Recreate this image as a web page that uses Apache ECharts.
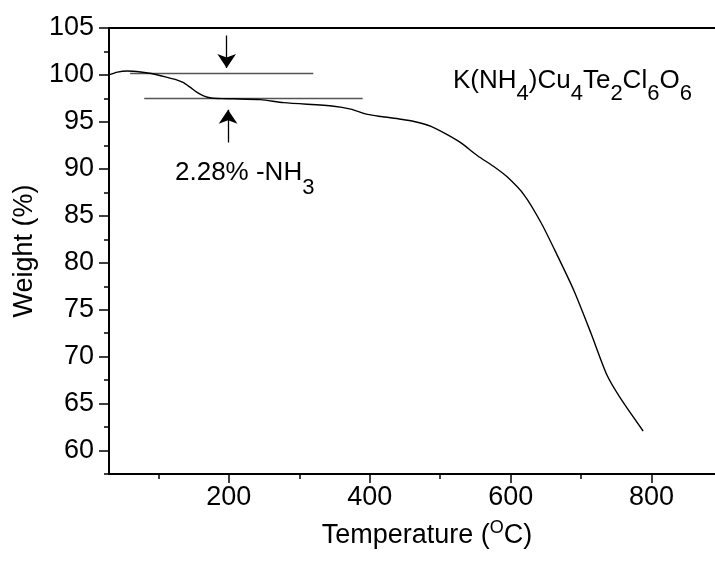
<!DOCTYPE html>
<html>
<head>
<meta charset="utf-8">
<script src="https://cdn.jsdelivr.net/npm/echarts@6/dist/echarts.min.js"></script>
<style>
html, body { margin: 0; padding: 0; background: #fff; }
#main { width: 715px; height: 561px; }
</style>
</head>
<body>
<div id="main"></div>
<script>
var myChart = echarts.init(document.getElementById('main'));

// TGA curve
var temps = [30, 42, 56, 75, 90, 110, 125, 135, 145, 155, 165, 175, 190, 207, 245, 278, 349, 373, 397, 416, 444, 463, 487, 510, 529, 553, 576, 595, 619, 643, 666, 690, 714, 737, 756, 788];
var weights = [100.0, 100.3, 100.42, 100.32, 100.15, 99.8, 99.5, 99.2, 98.7, 98.15, 97.75, 97.55, 97.48, 97.46, 97.37, 97.05, 96.67, 96.36, 95.8, 95.57, 95.29, 95.05, 94.53, 93.65, 92.79, 91.4, 90.25, 89.15, 87.24, 84.29, 80.82, 77.0, 72.5, 67.99, 65.56, 62.09];

// annotation: two level lines and two arrows
var upperLevel = [[60, 100.2], [320, 100.2]];
var lowerLevel = [[80, 97.5], [390, 97.5]];
var downArrow = [[197, 104.2], [197, 100.75]];
var upArrow = [[199, 92.8], [199, 96.3]];

var xMajorTicks = [200, 400, 600, 800];
var xMinorTicks = [100, 300, 500, 700];
var yMajorTicks = [60, 65, 70, 75, 80, 85, 90, 95, 100, 105];
var yMinorTicks = [57.5, 62.5, 67.5, 72.5, 77.5, 82.5, 87.5, 92.5, 97.5, 102.5];

var curve = temps.map(function (t, i) { return [t, weights[i]]; });

var font = 'Liberation Sans, Arial, sans-serif';

var option = {
    animation: false,
    grid: { left: 109, right: 0, top: 28, bottom: 77 },
    xAxis: [{
        type: 'value', min: 30, max: 890,
        splitLine: { show: false },
        axisLine: { lineStyle: { color: '#000', width: 2 } },
        axisTick: { customValues: xMajorTicks, length: 9, lineStyle: { color: '#000', width: 1.5 } },
        axisLabel: { customValues: xMajorTicks, margin: 10, color: '#000', fontSize: 27, fontFamily: font },
        name: 'Temperature ({sup|O}C)',
        nameLocation: 'middle',
        nameGap: 38,
        nameTextStyle: {
            color: '#000', fontSize: 27, fontFamily: font, lineHeight: 40,
            padding: [0, 0, 0, 30],
            rich: { sup: { fontSize: 18, fontFamily: font, color: '#000', verticalAlign: 'top', lineHeight: 18, padding: [3, 0, 0, 0] } }
        }
    }, {
        type: 'value', min: 30, max: 890, position: 'bottom',
        splitLine: { show: false }, axisLine: { show: false },
        axisTick: { customValues: xMinorTicks, length: 5, lineStyle: { color: '#000', width: 1.5 } },
        axisLabel: { show: false }
    }, {
        type: 'value', min: 30, max: 890, position: 'top',
        splitLine: { show: false },
        axisLine: { lineStyle: { color: '#000', width: 2 } },
        axisTick: { show: false }, axisLabel: { show: false }
    }],
    yAxis: [{
        type: 'value', min: 57.5, max: 105,
        splitLine: { show: false },
        axisLine: { lineStyle: { color: '#000', width: 2 } },
        axisTick: { customValues: yMajorTicks, length: 10, lineStyle: { color: '#000', width: 1.5 } },
        axisLabel: { customValues: yMajorTicks, margin: 15, color: '#000', fontSize: 27, fontFamily: font },
        name: 'Weight (%)',
        nameLocation: 'middle',
        nameGap: 64,
        nameTextStyle: { color: '#000', fontSize: 27, fontFamily: font }
    }, {
        type: 'value', min: 57.5, max: 105, position: 'left',
        splitLine: { show: false }, axisLine: { show: false },
        axisTick: { customValues: yMinorTicks, length: 5, lineStyle: { color: '#000', width: 1.5 } },
        axisLabel: { show: false }
    }],
    series: [{
        type: 'line',
        data: curve,
        smooth: 0.25,
        symbol: 'none',
        lineStyle: { color: '#000', width: 1.4 }
    }, {
        type: 'lines',
        coordinateSystem: 'cartesian2d',
        symbol: ['none', 'none'],
        lineStyle: { color: '#555', width: 1.4, opacity: 1 },
        data: [{ coords: upperLevel }, { coords: lowerLevel }]
    }, {
        type: 'lines',
        coordinateSystem: 'cartesian2d',
        symbol: ['none', 'arrow'],
        symbolSize: [7, 14],
        lineStyle: { color: '#000', width: 1.3, opacity: 1 },
        data: [{ coords: downArrow }, { coords: upArrow }]
    }],
    graphic: [{
        type: 'text', left: 453, top: 56,
        style: {
            text: 'K(NH{s|4})Cu{s|4}Te{s|2}Cl{s|6}O{s|6}',
            fill: '#000', fontSize: 26, fontFamily: font, lineHeight: 50,
            rich: { s: { fontSize: 22, fontFamily: font, fill: '#000', verticalAlign: 'top', lineHeight: 20, padding: [27, 0, 0, 0] } }
        }
    }, {
        type: 'text', left: 175, top: 148,
        style: {
            text: '2.28% -NH{s|3}',
            fill: '#000', fontSize: 26, fontFamily: font, lineHeight: 50,
            rich: { s: { fontSize: 22, fontFamily: font, fill: '#000', verticalAlign: 'top', lineHeight: 20, padding: [29, 0, 0, 0] } }
        }
    }]
};

myChart.setOption(option);
</script>
</body>
</html>
